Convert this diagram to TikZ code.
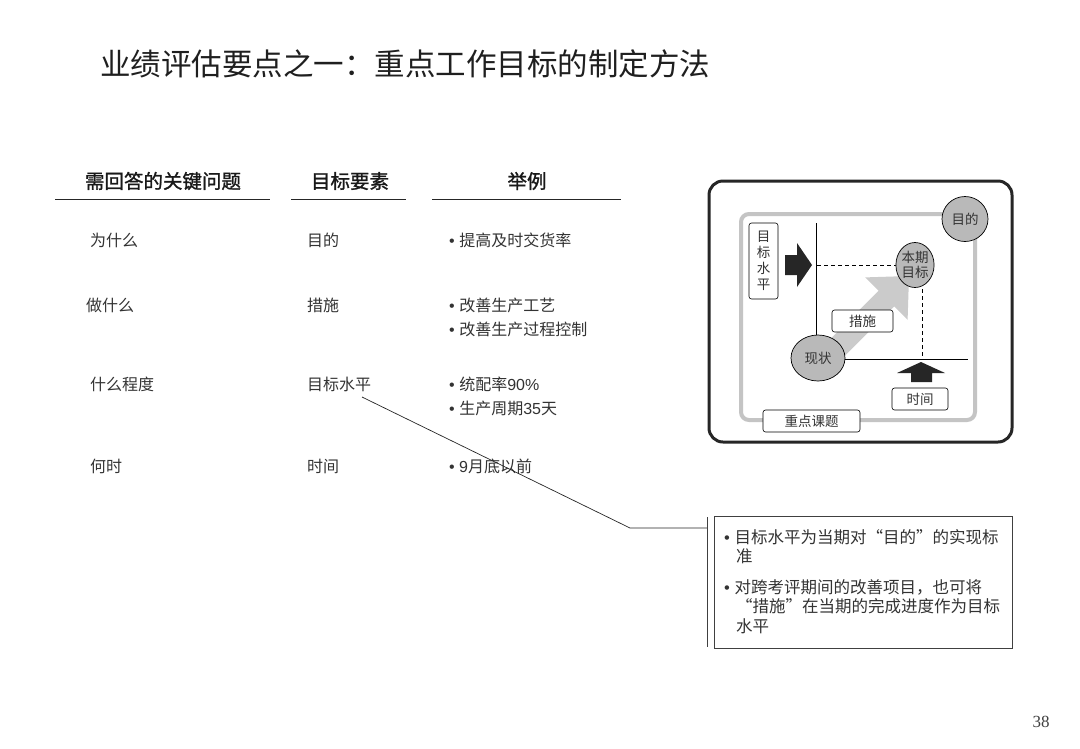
\documentclass[tikz,border=0pt]{standalone}
\usepackage{fontspec}
\usetikzlibrary{shapes.geometric}
\setmainfont{Noto Sans CJK SC}
\newfontfamily\lat{Liberation Sans}
\newfontfamily\ser{Liberation Serif}
\newfontfamily\cjkq[RawFeature=+fwid]{Noto Sans CJK SC}
\newfontfamily\headf[FakeBold=1.2]{Noto Sans CJK SC}
\definecolor{txtc}{HTML}{333333}
\definecolor{ellc}{HTML}{B9B9B9}
\definecolor{arrc}{HTML}{CBCBCB}
\definecolor{framec}{HTML}{C4C4C4}
\begin{document}
\begin{tikzpicture}[x=1pt,y=-1pt,
  title/.style={anchor=west,inner sep=0pt,text=black!88,font=\fontsize{30.5}{32}\selectfont},
  head/.style={inner sep=0pt,text=black!90,font=\headf\fontsize{19.5}{20}\selectfont},
  body/.style={anchor=west,inner sep=0pt,text=txtc,font=\fontsize{16}{16}\selectfont},
  cbody/.style={anchor=west,inner sep=0pt,text=txtc,font=\fontsize{16.5}{16}\selectfont},
  small/.style={inner sep=0pt,text=txtc,font=\fontsize{13.5}{16}\selectfont},
  ell/.style={ellipse,draw=black,fill=ellc,line width=0.7pt,inner sep=0pt},
  lbox/.style={draw=black,fill=white,rounded corners=2.5pt,line width=0.6pt,inner sep=0pt},
  rule/.style={line width=0.9pt,draw=black!85},
  conn/.style={line width=0.7pt,draw=black!85}
]
\useasboundingbox (0,0) rectangle (1080,748);
\fill[white] (0,0) rectangle (1080,748);

\node[title] (t) at (100,64) {业绩评估要点之一：重点工作目标的制定方法};

% headers
\node[head] (h1) at (163,181) {需回答的关键问题};
\node[head] (h2) at (350,181) {目标要素};
\node[head] (h3) at (527,181) {举例};
\draw[rule] (55,199) -- (270,199);
\draw[rule] (291,199) -- (406,199);
\draw[rule] (432,199) -- (621,199);

% column 1
\node[body] (q1) at (90,240) {为什么};
\node[body] (q2) at (86,305) {做什么};
\node[body] (q3) at (90,384) {什么程度};
\node[body] (q4) at (90,466) {何时};
% column 2
\node[body] (e1) at (307,240) {目的};
\node[body] (e2) at (307,305) {措施};
\node[body] (e3) at (307,384) {目标水平};
\node[body] (e4) at (307,466) {时间};
% column 3
\node[body] (x1) at (449,240) {{\lat•\ }提高及时交货率};
\node[body] (x2) at (449,305) {{\lat•\ }改善生产工艺};
\node[body] (x3) at (449,329) {{\lat•\ }改善生产过程控制};
\node[body] (x4) at (449,384) {{\lat•\ }统配率{\lat 90\%}};
\node[body] (x5) at (449,408) {{\lat•\ }生产周期{\lat 35}天};
\node[body] (x6) at (449,466) {{\lat•\ }{\lat 9}月底以前};

% callout
\coordinate (c0) at (362,397);
\coordinate (c1) at (630,528);
\coordinate (bt) at (707,517);
\coordinate (bb) at (707,647);
\draw[conn] (c0) -- (c1) -- (c1 -| bt);
\draw[line width=1pt,draw=black!75] (bt) -- (bb);
\draw[line width=1pt,draw=black!75] (714,516) rectangle (1012,648);
\node[cbody] (n1) at (724,537) {{\lat•\ }目标水平为当期对{\cjkq “}目的{\cjkq ”}的实现标};
\node[cbody] (n2) at (736,556) {准};
\node[cbody] (n3) at (724,587) {{\lat•\ }对跨考评期间的改善项目，也可将};
\node[cbody] (n4) at (736,606) {{\cjkq “}措施{\cjkq ”}在当期的完成进度作为目标};
\node[cbody] (n5) at (736,626) {水平};

% right diagram
\draw[line width=3pt,draw=black!85,rounded corners=14pt] (709,181) rectangle (1012,442);
\draw[line width=4pt,draw=framec,rounded corners=8pt] (741,214) rectangle (975,420);

\draw[line width=0.7pt] (816,223) -- (816,350);
\draw[line width=0.7pt] (830,359) -- (968,359);
\draw[line width=0.6pt,dash pattern=on 4pt off 3pt] (817,265) -- (896,265);
\draw[line width=0.6pt,dash pattern=on 4pt off 3pt] (922,289) -- (922,359);

% gray arrow
\fill[arrc] (832.8,367.8) -- (894.2,306.4) -- (907.6,319.8) -- (909,276) -- (865.2,277.4) -- (878.6,290.8) -- (817.2,352.2) -- cycle;

\node[ell,minimum width=46pt,minimum height=45pt,small] (goal) at (965,219) {目的};
\node[ell,minimum width=38pt,minimum height=45pt,small,align=center,font=\fontsize{13.5}{15}\selectfont] (cur) at (915,265) {本期\\目标};
\node[ell,minimum width=54pt,minimum height=46pt,small] (now) at (818,358) {现状};

\node[lbox,minimum width=29pt,minimum height=76pt,small,align=center,font=\fontsize{13.5}{16}\selectfont] (lv) at (763.5,261) {目\\标\\水\\平};
\node[lbox,minimum width=61pt,minimum height=22pt,small] (cs) at (862.5,321) {措施};
\node[lbox,minimum width=56pt,minimum height=22pt,small] (tm) at (920,399) {时间};
\node[lbox,minimum width=97pt,minimum height=22pt,small] (kt) at (811.5,421) {重点课题};

% black arrows
\fill[black!85] (785,255) -- (797,255) -- (797,243) -- (812,265) -- (797,287) -- (797,275) -- (785,275) -- cycle;
\fill[black!85] (911,382) -- (911,373) -- (897,373) -- (921,362) -- (945,373) -- (932,373) -- (932,382) -- cycle;

\node[inner sep=0pt,text=black!75,font=\ser\fontsize{17}{17}\selectfont] (pg) at (1041,722) {38};
\end{tikzpicture}
\end{document}
